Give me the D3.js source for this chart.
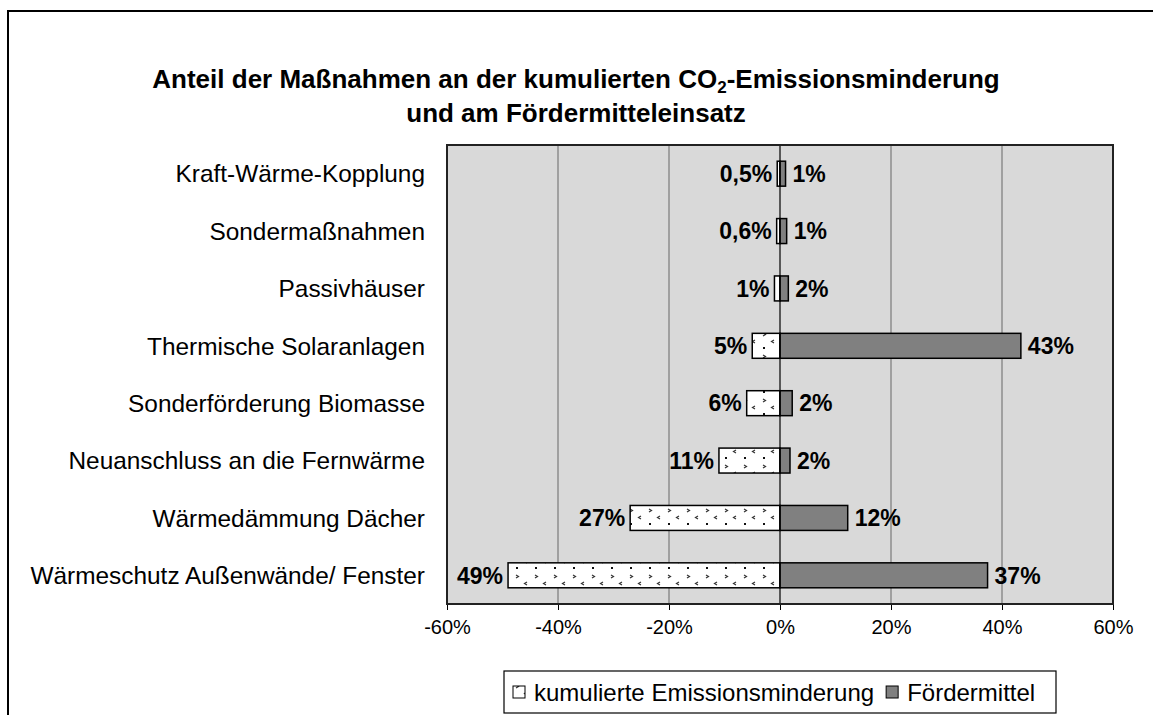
<!DOCTYPE html>
<html>
<head>
<meta charset="utf-8">
<script src="https://cdn.jsdelivr.net/npm/d3@7"></script>
<style>
  html, body { margin: 0; padding: 0; background: #fff; }
  svg { display: block; }
  text { font-family: "Liberation Sans", Arial, sans-serif; }
</style>
</head>
<body>
<svg id="chart" width="1153" height="715"></svg>
<script>
const categories = [
  "Kraft-Wärme-Kopplung",
  "Sondermaßnahmen",
  "Passivhäuser",
  "Thermische Solaranlagen",
  "Sonderförderung Biomasse",
  "Neuanschluss an die Fernwärme",
  "Wärmedämmung Dächer",
  "Wärmeschutz Außenwände/ Fenster"
];
const emissionShare = [0.5, 0.6, 1, 5, 6, 11, 27, 49];
const fundingShare = [1, 1.2, 1.5, 43.4, 2.2, 1.8, 12.2, 37.4];
const xTicks = [-60, -40, -20, 0, 20, 40, 60];
const seriesNames = ["kumulierte Emissionsminderung", "Fördermittel"];

const svg = d3.select("#chart");
const W = 1153, H = 715;

// outer frame
svg.append("rect").attr("x", 8).attr("y", 11).attr("width", W + 20).attr("height", H + 20)
  .attr("fill", "#fff").attr("stroke", "#000").attr("stroke-width", 2);

// pattern
const defs = svg.append("defs");
const pat = defs.append("pattern").attr("id", "dotpat").attr("patternUnits", "userSpaceOnUse")
  .attr("width", 19).attr("height", 22);
pat.append("rect").attr("width", 19).attr("height", 22).attr("fill", "#fff");
pat.append("path").attr("d", "M3,3 L5.5,4.5 L3,6").attr("fill", "none").attr("stroke", "#333").attr("stroke-width", 1.2);
pat.append("path").attr("d", "M14,10 L11.5,11.5 L14,13").attr("fill", "none").attr("stroke", "#333").attr("stroke-width", 1.2);
pat.append("rect").attr("x", 3).attr("y", 17).attr("width", 2).attr("height", 2).attr("fill", "#111");

// title
const title = svg.append("text").attr("x", 576).attr("y", 88).attr("text-anchor", "middle")
  .attr("font-size", 26).attr("font-weight", "bold").attr("fill", "#000");
title.append("tspan").text("Anteil der Maßnahmen an der kumulierten CO");
title.append("tspan").text("2").attr("font-size", 17).attr("dy", 5);
title.append("tspan").text("-Emissionsminderung").attr("dy", -5);
svg.append("text").attr("x", 576).attr("y", 122).attr("text-anchor", "middle")
  .attr("font-size", 26).attr("font-weight", "bold").attr("fill", "#000")
  .text("und am Fördermitteleinsatz");

// plot area
const pl = 447, pr = 1113, pt = 145, pb = 604;
const x = d3.scaleLinear().domain([-60, 60]).range([pl, pr]);
const p = 0.565;
const y = d3.scaleBand().domain(categories).range([pt, pb]).paddingInner(p).paddingOuter(p / 2);

svg.append("rect").attr("x", pl).attr("y", pt).attr("width", pr - pl).attr("height", pb - pt)
  .attr("fill", "#d9d9d9");

// gridlines
svg.append("g").selectAll("line").data(xTicks.filter(t => t !== 0 && t !== -60 && t !== 60)).join("line")
  .attr("x1", d => x(d)).attr("x2", d => x(d)).attr("y1", pt).attr("y2", pb)
  .attr("stroke", "#8c8c8c").attr("stroke-width", 1.5);

// bottom axis
const axis = svg.append("g").attr("transform", `translate(0,${pb})`)
  .call(d3.axisBottom(x).tickValues(xTicks).tickSize(6).tickPadding(10).tickFormat(d => d + "%"));
axis.select(".domain").remove();
axis.selectAll(".tick line").attr("stroke", "#000");
axis.selectAll(".tick text").attr("font-size", 20).attr("fill", "#000")
  .attr("font-family", "Liberation Sans, Arial, sans-serif");

const fmt = v => v < 1 ? d3.format(".1f")(v).replace(".", ",") + "%" : d3.format(".0f")(v) + "%";

// emission bars (negative side)
svg.append("g").selectAll("rect").data(categories).join("rect")
  .attr("x", (d, i) => x(-emissionShare[i]))
  .attr("y", d => y(d))
  .attr("width", (d, i) => x(0) - x(-emissionShare[i]))
  .attr("height", y.bandwidth())
  .attr("fill", "url(#dotpat)").attr("stroke", "#000").attr("stroke-width", 1.5);

// funding bars
svg.append("g").selectAll("rect").data(categories).join("rect")
  .attr("x", x(0))
  .attr("y", d => y(d))
  .attr("width", (d, i) => x(fundingShare[i]) - x(0))
  .attr("height", y.bandwidth())
  .attr("fill", "#808080").attr("stroke", "#000").attr("stroke-width", 1.5);

// zero line
svg.append("line").attr("x1", x(0)).attr("x2", x(0)).attr("y1", pt).attr("y2", pb)
  .attr("stroke", "#000").attr("stroke-width", 1.2);

// plot border
svg.append("rect").attr("x", pl).attr("y", pt).attr("width", pr - pl).attr("height", pb - pt)
  .attr("fill", "none").attr("stroke", "#222").attr("stroke-width", 2);

// value labels
svg.append("g").selectAll("text").data(categories).join("text")
  .attr("x", (d, i) => x(-emissionShare[i]) - 5)
  .attr("y", d => y(d) + y.bandwidth() / 2).attr("dy", "0.36em")
  .attr("text-anchor", "end").attr("font-size", 23).attr("font-weight", "bold").attr("fill", "#000")
  .text((d, i) => fmt(emissionShare[i]));
svg.append("g").selectAll("text").data(categories).join("text")
  .attr("x", (d, i) => x(fundingShare[i]) + 7)
  .attr("y", d => y(d) + y.bandwidth() / 2).attr("dy", "0.36em")
  .attr("text-anchor", "start").attr("font-size", 23).attr("font-weight", "bold").attr("fill", "#000")
  .text((d, i) => fmt(fundingShare[i]));

// category labels
svg.append("g").selectAll("text").data(categories).join("text")
  .attr("x", 425).attr("y", d => y(d) + y.bandwidth() / 2).attr("dy", "0.36em")
  .attr("text-anchor", "end").attr("font-size", 24.4).attr("fill", "#000")
  .text(d => d);

// legend
const lg = svg.append("g");
lg.append("rect").attr("x", 504).attr("y", 671).attr("width", 552).attr("height", 42)
  .attr("fill", "#fff").attr("stroke", "#000").attr("stroke-width", 1.2);
let lx = 513;
const fills = ["url(#dotpat)", "#808080"];
seriesNames.forEach((name, i) => {
  lg.append("rect").attr("x", lx).attr("y", 686).attr("width", 12).attr("height", 12)
    .attr("fill", fills[i]).attr("stroke", "#000").attr("stroke-width", 1);
  const t = lg.append("text").attr("x", lx + 21).attr("y", 692).attr("dy", "0.36em")
    .attr("font-size", 24).attr("fill", "#000").text(name);
  lx += 21 + t.node().getComputedTextLength() + 12;
});
</script>
</body>
</html>
